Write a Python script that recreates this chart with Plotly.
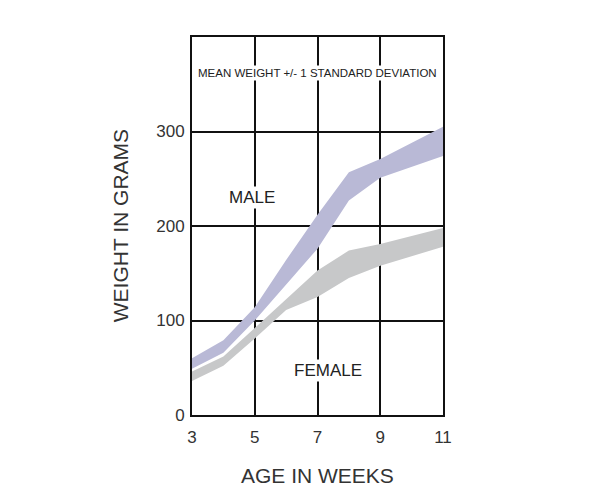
import plotly.graph_objects as go

weeks = [3, 4, 5, 6, 7, 8, 9, 11]

male_upper = [60, 79, 114, 164, 212, 257, 271, 305]
male_lower = [49, 66, 100, 138, 176, 227, 251, 274]

female_upper = [46, 62, 92, 123, 153, 174, 181, 198]
female_lower = [36, 52, 81, 111, 125, 145, 158, 178]

male_color = "#b9b9d6"
female_color = "#c7c8c9"
font_family = "Liberation Sans, Arial, sans-serif"

fig = go.Figure()

for lower, upper, color in [(male_lower, male_upper, male_color),
                            (female_lower, female_upper, female_color)]:
    fig.add_trace(go.Scatter(x=weeks, y=lower, mode="lines",
                             line=dict(width=0, color=color),
                             hoverinfo="skip", showlegend=False))
    fig.add_trace(go.Scatter(x=weeks, y=upper, mode="lines",
                             line=dict(width=0, color=color),
                             fill="tonexty", fillcolor=color,
                             hoverinfo="skip", showlegend=False))

axis_common = dict(
    showgrid=True, gridcolor="#111111", gridwidth=2,
    showline=True, linecolor="#111111", linewidth=2, mirror=True,
    zeroline=False, ticks="",
    tickfont=dict(size=17, color="#333333", family=font_family),
    layer="below traces",
)

fig.update_xaxes(range=[3, 11], tickvals=[3, 5, 7, 9, 11],
                 ticklabelstandoff=6, **axis_common)
fig.update_yaxes(range=[0, 400], tickvals=[0, 100, 200, 300],
                 ticklabelstandoff=2, **axis_common)

label_font = dict(family=font_family, color="#222222")

fig.add_annotation(x=7, y=362,
                   text="MEAN WEIGHT +/- 1 STANDARD DEVIATION",
                   showarrow=False, bgcolor="white",
                   font=dict(size=11.5, **label_font))
fig.add_annotation(x=4.9, y=230, text="MALE", showarrow=False,
                   bgcolor="white", font=dict(size=17, **label_font))
fig.add_annotation(x=7.35, y=47, text="FEMALE", showarrow=False,
                   bgcolor="white", font=dict(size=17, **label_font))

fig.add_annotation(x=-0.286, y=0.5, xref="paper", yref="paper",
                   xanchor="center", yanchor="middle",
                   text="WEIGHT IN GRAMS", textangle=-90, showarrow=False,
                   font=dict(size=21, color="#333333", family=font_family))
fig.add_annotation(x=0.5, y=-0.161, xref="paper", yref="paper",
                   xanchor="center", yanchor="middle",
                   text="AGE IN WEEKS", showarrow=False,
                   font=dict(size=21, color="#333333", family=font_family))

fig.update_layout(
    width=605, height=500,
    margin=dict(l=184, r=170, t=29, b=93),
    plot_bgcolor="white", paper_bgcolor="white",
)

fig.write_html("out.html")
